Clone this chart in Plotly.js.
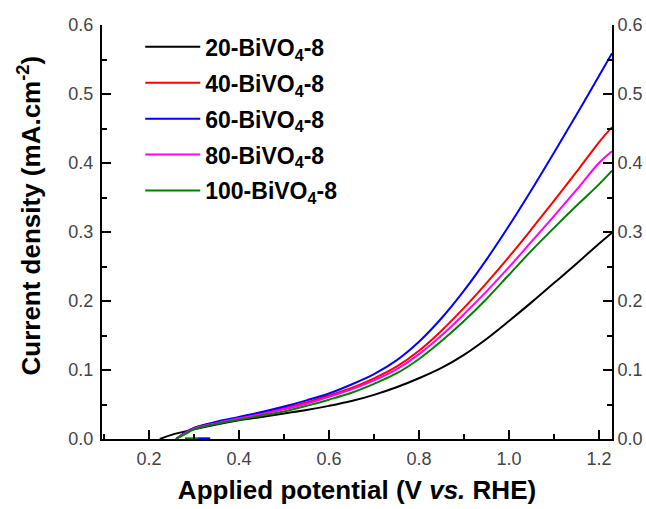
<!DOCTYPE html>
<html>
<head>
<meta charset="utf-8">
<script src="https://cdn.plot.ly/plotly-3.0.1.min.js"></script>
<style>
html,body{margin:0;padding:0;background:#fff;}
#chart{width:646px;height:509px;}
</style>
</head>
<body>
<div id="chart"></div>
<script>
// Potential (V vs. RHE) sample points
var potential = [0.26, 0.28, 0.30, 0.35, 0.40, 0.45, 0.50, 0.55, 0.60, 0.65, 0.70, 0.75, 0.80, 0.85, 0.90, 0.95, 1.00, 1.05, 1.10, 1.15, 1.20, 1.229];
var potentialBlack = [0.224, 0.25, 0.30, 0.35, 0.40, 0.45, 0.50, 0.55, 0.60, 0.65, 0.70, 0.75, 0.80, 0.85, 0.90, 0.95, 1.00, 1.05, 1.10, 1.15, 1.20, 1.229];

// Current density (mA cm^-2)
var j20  = [0.000, 0.006, 0.014, 0.021, 0.027, 0.032, 0.037, 0.042, 0.048, 0.055, 0.064, 0.075, 0.088, 0.103, 0.122, 0.145, 0.171, 0.198, 0.226, 0.254, 0.283, 0.299];
var j40  = [0.000, 0.009, 0.016, 0.024, 0.031, 0.038, 0.045, 0.053, 0.063, 0.074, 0.088, 0.105, 0.128, 0.157, 0.190, 0.226, 0.264, 0.304, 0.345, 0.387, 0.430, 0.452];
var j60  = [0.000, 0.009, 0.016, 0.025, 0.032, 0.039, 0.047, 0.056, 0.066, 0.079, 0.094, 0.114, 0.141, 0.175, 0.215, 0.260, 0.309, 0.361, 0.415, 0.470, 0.526, 0.559];
var j80  = [0.000, 0.008, 0.015, 0.023, 0.030, 0.036, 0.043, 0.051, 0.061, 0.072, 0.085, 0.101, 0.123, 0.150, 0.181, 0.214, 0.249, 0.286, 0.323, 0.361, 0.400, 0.417];
var j100 = [0.000, 0.007, 0.014, 0.022, 0.028, 0.034, 0.040, 0.048, 0.057, 0.067, 0.080, 0.095, 0.116, 0.142, 0.171, 0.203, 0.238, 0.273, 0.306, 0.338, 0.369, 0.389];

// short segments lying on the zero line
var flatBlueX = [0.309, 0.336];
var flatBlueY = [0.001, 0.001];
var flatGreenX = [0.280, 0.309];
var flatGreenY = [0.001, 0.001];

var names = ['20-BiVO<sub>4</sub>-8', '40-BiVO<sub>4</sub>-8', '60-BiVO<sub>4</sub>-8', '80-BiVO<sub>4</sub>-8', '100-BiVO<sub>4</sub>-8'];
var colors = ['#000000', '#ff0000', '#0000ff', '#ff00ff', '#008000'];

var series = [
  {x: potentialBlack, y: j20},
  {x: potential, y: j40},
  {x: potential, y: j60},
  {x: potential, y: j80},
  {x: potential, y: j100}
];

var traces = series.map(function (s, i) {
  return {
    x: s.x, y: s.y, type: 'scatter', mode: 'lines', name: names[i],
    legendgroup: 'g' + i,
    line: {color: colors[i], width: 2, shape: 'spline', smoothing: 1}
  };
});
traces.push({x: flatGreenX, y: flatGreenY, type: 'scatter', mode: 'lines', showlegend: false, line: {color: colors[4], width: 2}});
traces.push({x: flatBlueX, y: flatBlueY, type: 'scatter', mode: 'lines', showlegend: false, line: {color: colors[2], width: 2}});
traces.push({x: [null], y: [null], yaxis: 'y2', type: 'scatter', mode: 'lines', showlegend: false, hoverinfo: 'skip'});

var FAM = 'Arial, Liberation Sans, sans-serif';
var tickFont = {family: FAM, size: 18, color: '#444444'};
var titleFont = {family: FAM, size: 26, color: '#000000', weight: 'bold'};

var yCommon = {
  range: [0, 0.6], tick0: 0, dtick: 0.1, tickformat: '.1f',
  ticks: 'inside', ticklen: 9, tickwidth: 2, tickcolor: '#000',
  minor: {dtick: 0.05, ticks: 'inside', ticklen: 5, tickwidth: 2, tickcolor: '#000'},
  showline: true, linewidth: 2, linecolor: '#000',
  showgrid: false, zeroline: false, tickfont: tickFont
};

var layout = {
  width: 646, height: 509,
  margin: {l: 102, r: 34, t: 25, b: 70},
  paper_bgcolor: '#ffffff', plot_bgcolor: '#ffffff',
  showlegend: true,
  legend: {
    x: 0.075, y: 0.999, xanchor: 'left', yanchor: 'top',
    font: {family: FAM, size: 23, color: '#000', weight: 'bold'},
    itemwidth: 55, tracegroupgap: 3, traceorder: 'grouped',
    bgcolor: 'rgba(0,0,0,0)', borderwidth: 0
  },
  xaxis: {
    range: [0.0955, 1.229], tick0: 0.2, dtick: 0.2, tickformat: '.1f',
    ticks: 'inside', ticklen: 9, tickwidth: 2, tickcolor: '#000',
    minor: {dtick: 0.1, ticks: 'inside', ticklen: 5, tickwidth: 2, tickcolor: '#000'},
    showline: true, linewidth: 2, linecolor: '#000',
    showgrid: false, zeroline: false, tickfont: tickFont, ticklabelstandoff: 2,
    title: {text: 'Applied potential (V <i>vs.</i> RHE)', font: titleFont, standoff: 13}
  },
  yaxis: Object.assign({}, yCommon, {ticklabelstandoff: 3}),
  yaxis2: Object.assign({}, yCommon, {overlaying: 'y', side: 'right', ticklabelstandoff: 0}),
  annotations: [{
    text: 'Current density (mA.cm<sup>-2</sup>)', textangle: -90,
    xref: 'paper', yref: 'paper', x: -0.143, y: 0.54,
    xanchor: 'center', yanchor: 'middle', showarrow: false, font: titleFont
  }]
};

Plotly.newPlot('chart', traces, layout, {displayModeBar: false, staticPlot: true});
</script>
</body>
</html>
